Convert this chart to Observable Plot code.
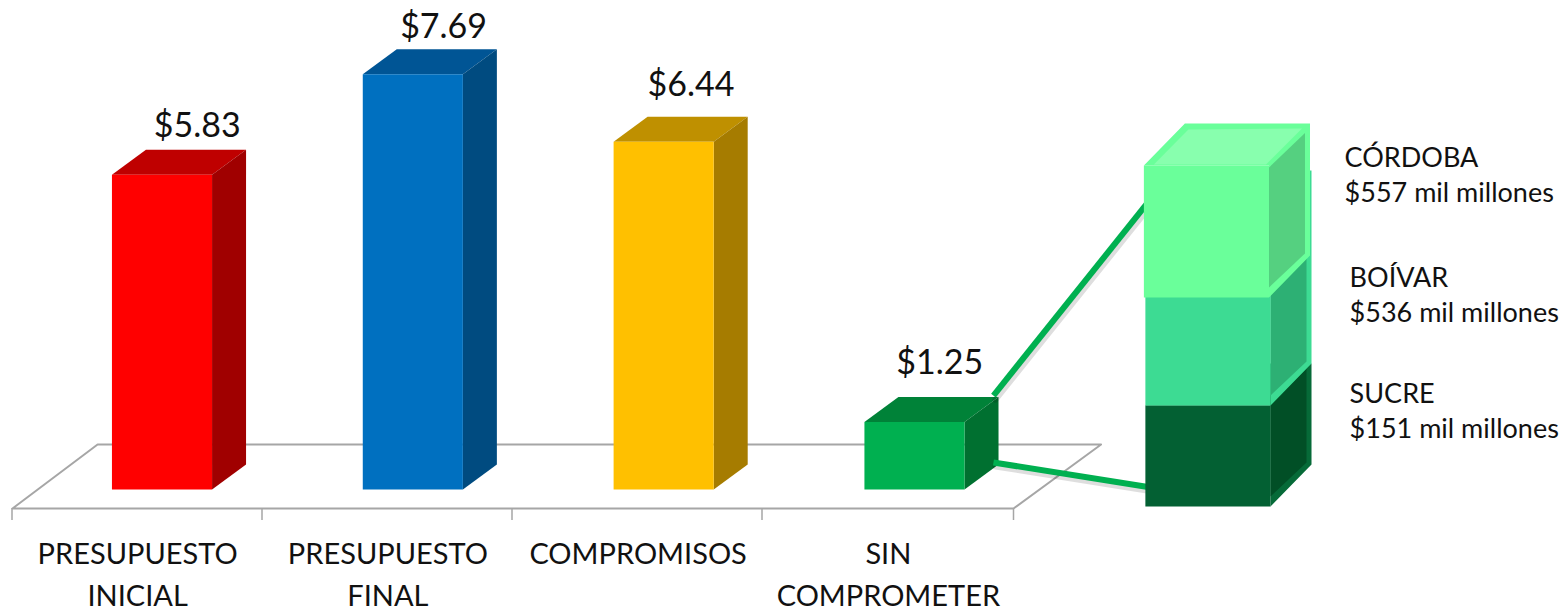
<!DOCTYPE html>
<html>
<head>
<meta charset="utf-8">
<script src="https://cdn.jsdelivr.net/npm/d3@7"></script>
<script src="https://cdn.jsdelivr.net/npm/@observablehq/plot@0.6"></script>
<style>html,body{margin:0;padding:0;background:#fff}svg{display:block}</style>
</head>
<body>
<div id="chart"></div>
<script>
// ---- chart values ----
const categories = ["PRESUPUESTO\nINICIAL", "PRESUPUESTO\nFINAL", "COMPROMISOS", "SIN\nCOMPROMETER"];
const values = [5.83, 7.69, 6.44, 1.25];
const valueLabels = ["$5.83", "$7.69", "$6.44", "$1.25"];
const frontColors = ["#FF0000", "#0070C0", "#FFC000", "#00B050"];
const sideColors = ["#A00000", "#004B80", "#A67C00", "#007030"];
const topColors = ["#BF0000", "#005595", "#BF9000", "#008238"];

const stackNames = ["SUCRE\n$151 mil millones", "BOÍVAR\n$536 mil millones", "CÓRDOBA\n$557 mil millones"];
const stackLow = [-0.315, 1.556, 3.556];
const stackHigh = [1.556, 5.13, 6.0];
const stackFront = ["#036033", "#3DDB93", "#6AFF9A"];
const stackFrame = ["#066A38", "#3DDB93", "#6AFF9A"];
const stackSide = ["#014F26", "#2DB074", "#55D080"];
const stackTopInner = "#88FFAE";

// ---- layout, in chart units ----
const pxX = 250.25, pxY = 54;
const x0 = -0.5 - 12 / pxX;
const barStep = 1.0023, barShift = 0.0974, barHalf = 0.2, depthX = 34 / pxX, depthY = 25 / pxY;
const labelShift = [0.141, 0.123, 0.109, 0.101];
const labelLift = [0.43, 0.41, 0.58, 0.63];
const stackLeft = [4.027, 4.027, 4.021], stackWidth = 0.5;
const sDepthX = 41 / pxX, sDepthY = 42 / pxY;
const sideInsetX = 5 / pxX;
const floor = [[-0.5, -0.352], [-0.16, 0.833], [3.85, 0.833], [3.5, -0.352], [-0.5, -0.352]];
const tickEdges = [-0.502, 0.497, 1.496, 2.495, 3.5];
const connectors = [
  [[3.42, 1.74], [4.05, 5.39]],
  [[3.42, 0.5], [4.05, 0.037]]
];
const labelX = [4.843, 4.843, 4.823];
const labelRows = [(489 - 376.5) / pxY, (489 - 260.5) / pxY, (489 - 140.5) / pxY];
const green = "#00B050", gray = "#A6A6A6", font = "Lato, 'Open Sans', sans-serif";

// ---- polygons built from the values ----
const polys = [];
let id = 0;
const add = (pts, fill) => { const z = id++; pts.forEach(([x, y]) => polys.push({x, y, z, fill})); };

const barPolys = [];
const barCenter = i => i * barStep + barShift;
values.forEach((v, i) => {
  const c = barCenter(i), l = c - barHalf, r = c + barHalf;
  add([[l, v], [r, v], [r + depthX, v + depthY], [l + depthX, v + depthY]], topColors[i]);
  add([[r, 0], [r + depthX, depthY], [r + depthX, v + depthY], [r, v]], sideColors[i]);
  add([[l, 0], [r, 0], [r, v], [l, v]], frontColors[i]);
});
barPolys.push(...polys.splice(0));

stackLow.forEach((lo, i) => {
  const hi = stackHigh[i], l = stackLeft[i], r = l + stackWidth;
  add([[r, lo], [r + sDepthX, lo + sDepthY], [r + sDepthX, hi + sDepthY], [l + sDepthX, hi + sDepthY], [l, hi], [r, hi]], stackFrame[i]);
  add([[r, lo + 10 / pxY], [r + sDepthX - sideInsetX, lo + sDepthY + 2 / pxY],
       [r + sDepthX - sideInsetX, hi + sDepthY - (i === 2 ? 9.5 : 5) / pxY], [r, hi - (i === 2 ? 2 : 0) / pxY]], stackSide[i]);
  add([[l, lo], [r, lo], [r, hi], [l, hi]], stackFront[i]);
  if (i === 2) {
    add([[l + 10 / pxX, hi + 1 / pxY], [l + 44.5 / pxX, hi + 36 / pxY],
         [r + sDepthX - 8 / pxX, hi + 37 / pxY], [r - 3 / pxX, hi + 1 / pxY]], stackTopInner);
  }
});

const idx = categories.map((_, i) => i);
const polyMark = (d) => Plot.line(d, {x: "x", y: "y", z: "z", fill: "fill", stroke: "none", curve: "linear"});

const chart = Plot.plot({
  width: 1567,
  height: 607,
  margin: 0,
  x: {domain: [x0, x0 + 1567 / pxX], range: [0, 1567], axis: null},
  y: {domain: [-118 / pxY, 489 / pxY], range: [607, 0], axis: null},
  color: {type: "identity"},
  style: {background: "#fff"},
  marks: [
    Plot.line(floor, {x: d => d[0], y: d => d[1], stroke: gray, strokeWidth: 2, curve: "linear"}),
    Plot.ruleX(tickEdges, {y1: floor[0][1], y2: -31 / pxY, x: d => d, stroke: gray, strokeWidth: 1.5}),
    polyMark(barPolys),
    ...connectors.map(c => Plot.line(c, {x: d => d[0], y: d => d[1], stroke: "#000", strokeOpacity: 0.13, strokeWidth: 6, dx: 2, dy: 4, curve: "linear"})),
    ...connectors.map(c => Plot.line(c, {x: d => d[0], y: d => d[1], stroke: green, strokeWidth: 6, strokeLinecap: "butt", curve: "linear"})),
    polyMark(polys),
    Plot.text(idx, {x: i => barCenter(i) + labelShift[i], y: i => values[i] + depthY + labelLift[i], text: i => valueLabels[i], fontSize: 34, fontFamily: font, fill: "#111"}),
    Plot.text(idx, {x: i => i, y: -44 / pxY, text: i => categories[i], lineAnchor: "top", lineHeight: 1.47, fontSize: 29, fontFamily: font, fill: "#111"}),
    Plot.text([0, 1, 2], {x: i => labelX[i], y: i => labelRows[i], text: i => stackNames[i], textAnchor: "start", lineAnchor: "top", lineHeight: 1.33, fontSize: 27, fontFamily: font, fill: "#111"})
  ]
});
document.getElementById("chart").appendChild(chart);
</script>
</body>
</html>
